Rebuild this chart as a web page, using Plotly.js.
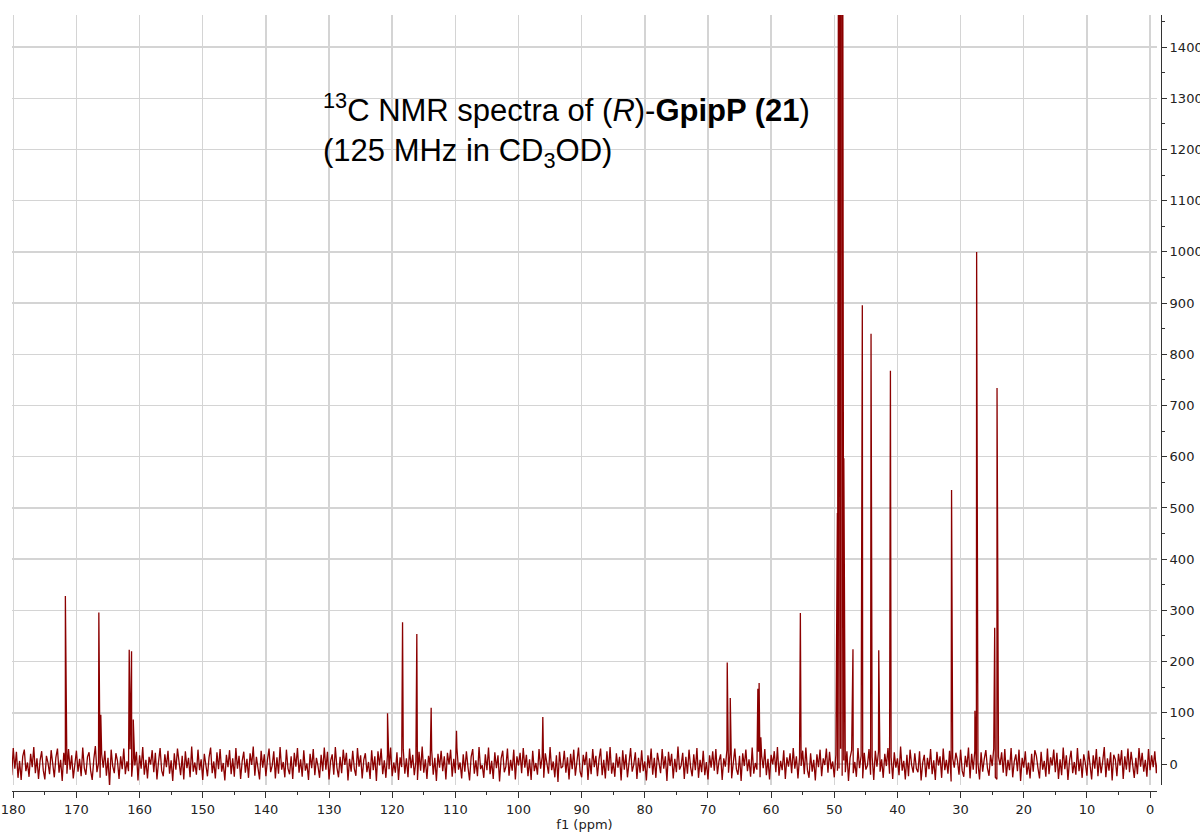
<!DOCTYPE html>
<html>
<head>
<meta charset="utf-8">
<script src="https://cdn.plot.ly/plotly-3.0.1.min.js"></script>
<style>html,body{margin:0;padding:0;background:#fff;}#chart{width:1200px;height:836px;}</style>
</head>
<body>
<div id="chart"></div>
<script>
// Baseline (noise) samples, read/; ppm grid starts at 180.5, step -0.25
const noiseStartPpm = 180.5;
const noiseStepPpm = 0.25;
const noise = [
18,-22,31,-9,24,-27,6,-31,15,28,-14,3,-25,20,-6,33,-18,11,-29,7,25,-12,-30,16,2,
-20,27,-5,-26,13,30,-17,8,-33,22,-2,-19,29,-11,17,-28,4,26,-15,10,-24,32,-8,-21,14,
23,-13,-31,9,35,-16,1,-27,19,-7,26,-23,12,-44,28,-4,-18,21,6,-29,15,-10,30,-20,5,
-14,29,-25,11,-3,24,-32,17,-9,33,-21,8,-28,14,-1,27,-16,22,-30,4,31,-13,-24,19,-6,
26,-19,7,-33,21,-11,30,-4,-22,16,-30,25,-8,12,-26,34,-15,3,-21,28,-12,9,-31,20,-3,
-24,13,32,-18,5,-28,23,-10,29,-15,2,-32,18,-6,27,-20,11,-25,31,-9,16,-29,6,24,-17,
10,-27,21,-2,34,-23,14,-12,-30,26,-7,19,-24,8,30,-16,-3,25,-28,13,-19,33,-11,4,-26,
28,-9,-20,15,-29,22,-5,31,-17,9,-25,27,-13,1,-31,20,-8,29,-22,12,-4,-27,18,-14,32,
-11,24,-30,6,19,-21,33,-7,-26,14,-18,28,-2,22,-32,10,-15,26,-9,-23,31,-5,17,-28,8,
21,-16,4,-29,27,-12,15,-33,25,-3,30,-20,7,-27,18,-10,32,-24,3,-17,23,-31,13,-6,29,
-19,11,-26,30,-8,18,-22,5,-31,24,-13,34,-17,9,-29,16,-4,27,-21,12,-33,20,-7,26,-14,
15,-30,22,-1,28,-25,10,-18,31,-11,3,-28,19,-15,25,-6,-32,14,29,-19,7,-24,33,-10,-2,
-27,19,-12,32,-20,6,-29,23,-8,17,-34,11,26,-16,-5,30,-23,8,-13,28,-30,15,-3,22,-18,
31,-7,18,-24,9,-31,26,-14,2,-21,29,-9,14,-27,21,-1,-19,33,-12,5,-26,17,-35,24,-8,
-5,26,-17,13,-30,20,-10,28,-23,4,32,-15,-26,18,-2,24,-31,11,-20,29,-6,16,-24,9,30,
-22,8,-28,25,-13,33,-19,3,-25,21,-7,14,-32,27,-11,19,-26,6,31,-15,-1,23,-29,12,-17,
27,-14,5,-32,17,-8,30,-21,12,-27,22,-3,-18,29,-9,15,-33,24,-4,20,-28,10,-16,34,-11,
-3,22,-29,14,-19,28,-6,-24,19,-12,31,-27,8,-16,26,-22,4,-30,17,-7,25,-13,29,-20,6,
19,-31,11,-5,27,-17,23,-28,7,30,-10,-21,16,-33,21,-4,28,-14,9,-25,32,-19,2,-11,24,
-26,16,-8,29,-22,10,-30,18,-1,25,-16,33,-23,6,-12,27,-29,13,-5,21,-18,31,-9,15,-28,
13,-4,26,-20,32,-12,-27,21,-15,8,-32,19,-6,28,-24,11,-2,30,-17,24,-10,5,-26,18,-13,
-9,30,-23,7,-16,25,-33,12,27,-18,4,-25,31,-8,16,-28,22,-11,-3,29,-21,14,-31,26,-5,
24,-15,9,-27,20,-4,31,-19,14,-29,23,-7,11,-22,34,-13,6,-30,18,-24,28,-2,-17,21,-9,
-16,25,-32,3,18,-26,12,-10,29,-20,7,-31,24,-3,15,-27,30,-12,8,-19,26,-34,11,-7,22,
7,-21,28,-13,-25,16,-6,32,-28,20,-11,26,-19,2,-30,23,-15,10,27,-8,-23,18,-4,30,-26,
-30,14,-2,23,-17,29,-24,8,-12,31,-26,5,19,-14,28,-33,12,-7,25,-21,3,-28,20,-15,27,
16,-8,-28,24,-11,6,-25,30,-20,13,-3,28,-16,22,-29,9,-22,32,-10,17,-31,7,26,-18,4,
-21,31,-14,10,-27,19,2,-23,26,-6,-30,17,-9,29,-24,14,-18,5,33,-26,11,-13,23,-32,18,
9,-24,20,-3,27,-29,15,-11,30,-16,24,-8,-27,12,-20,31,-5,22,-15,8,-25,29,-12,17,-6,
25,-18,12
];

// Resonance lines (ppm) and their heights (intensity units)
const peakPpm = [171.75,166.45,166.14,161.64,161.27,161.00,120.74,118.36,116.10,113.83,109.82,96.15,
  66.95,66.47,62.10,61.90,61.63,55.37,
  49.51,49.34,49.17,49.00,48.83,48.66,48.49,
  47.04,45.56,44.18,42.96,41.11,31.43,27.73,27.46,24.60,24.23];
const peakHeight = [328,296,96,223,220,87,99,277,254,110,65,92,
  198,129,147,158,52,295,
  490,1650,3300,3850,3300,1650,597,
  224,896,840,222,768,535,104,1000,266,734];

const yTickVals = [0,100,200,300,400,500,600,700,800,900,1000,1100,1200,1300,1400];
const xTickVals = [180,170,160,150,140,130,120,110,100,90,80,70,60,50,40,30,20,10,0];

// assemble spectrum
const pts = [];
noise.forEach((v,i)=>pts.push([noiseStartPpm - i*noiseStepPpm, v]));
peakPpm.forEach((p,i)=>pts.push([p, peakHeight[i]]));
pts.sort((a,b)=>b[0]-a[0]);
const xs = pts.map(p=>p[0]);
const ys = pts.map(p=>p[1]);

const trace = {
  x: xs, y: ys, type: 'scatter', mode: 'lines',
  line: {color: '#8b0000', width: 1.3},
  hoverinfo: 'skip'
};

const tickFont = {family: 'DejaVu Sans, Verdana, sans-serif', size: 13, color: '#222'};

const layout = {
  width: 1200, height: 836,
  margin: {l: 12, r: 39, t: 15, b: 45, pad: 0},
  paper_bgcolor: '#fff', plot_bgcolor: '#fff',
  showlegend: false,
  xaxis: {
    domain: [0, 0.99652],
    range: [180.2, -1.1],
    anchor: 'free', position: 0,
    tickvals: xTickVals,
    ticks: 'outside', ticklen: 6, tickwidth: 1, tickcolor: '#333',
    showline: true, linecolor: '#333', linewidth: 1,
    showgrid: true, gridcolor: '#d4d4d4', gridwidth: 1.5,
    zeroline: false,
    minor: {dtick: 5, tick0: 0, ticks: 'outside', ticklen: 3, tickcolor: '#333', showgrid: false},
    tickfont: tickFont,
    title: {text: 'f1 (ppm)', font: tickFont, standoff: 0}
  },
  yaxis: {
    domain: [0.00773, 1],
    range: [-41, 1462.6],
    anchor: 'free', position: 1, side: 'right',
    tickvals: yTickVals,
    ticks: 'outside', ticklen: 5, tickwidth: 1, tickcolor: '#333',
    showline: true, linecolor: '#333', linewidth: 1,
    showgrid: true, gridcolor: '#d4d4d4', gridwidth: 1.5,
    zeroline: false,
    minor: {dtick: 50, tick0: 0, ticks: 'outside', ticklen: 3, tickcolor: '#333', showgrid: false},
    tickfont: tickFont
  },
  annotations: [{
    xref: 'paper', yref: 'paper', x: 0.2689, y: 0.9085,
    xanchor: 'left', yanchor: 'top', align: 'left', showarrow: false,
    text: '<sup>13</sup>C NMR spectra of (<i>R</i>)-<b>GpipP (21</b>)<br>(125 MHz in CD<sub>3</sub>OD)',
    font: {family: 'Liberation Sans, Arial, sans-serif', size: 31, color: '#000'}
  }]
};

Plotly.newPlot('chart', [trace], layout, {staticPlot: true, displayModeBar: false});
</script>
</body>
</html>
